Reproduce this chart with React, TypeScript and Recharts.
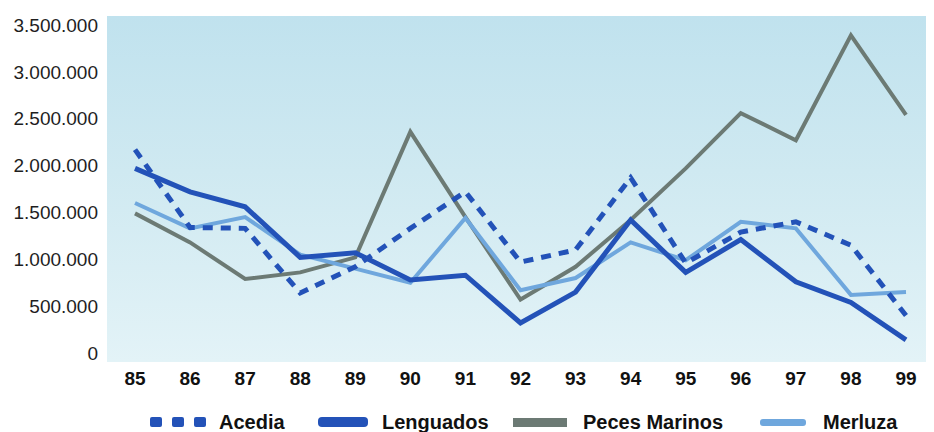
import React from 'react';
import { LineChart, Line, XAxis, YAxis, Legend } from 'recharts';

const years = ['85', '86', '87', '88', '89', '90', '91', '92', '93', '94', '95', '96', '97', '98', '99'];
const acedia = [2170000, 1340000, 1330000, 640000, 920000, 1330000, 1720000, 970000, 1100000, 1870000, 960000, 1290000, 1400000, 1150000, 400000];
const lenguados = [1970000, 1720000, 1560000, 1020000, 1070000, 780000, 830000, 320000, 650000, 1420000, 860000, 1210000, 760000, 540000, 140000];
const pecesMarinos = [1490000, 1180000, 790000, 860000, 1020000, 2360000, 1450000, 570000, 920000, 1420000, 1970000, 2560000, 2270000, 3390000, 2540000];
const merluza = [1600000, 1330000, 1450000, 1050000, 900000, 750000, 1440000, 670000, 800000, 1180000, 990000, 1400000, 1330000, 620000, 650000];
const yTicks = [0, 500000, 1000000, 1500000, 2000000, 2500000, 3000000, 3500000];

const chartData = years.map((year, i) => ({
  year,
  acedia: acedia[i],
  lenguados: lenguados[i],
  peces: pecesMarinos[i],
  merluza: merluza[i],
}));

const fmt = (v: number) => String(v).replace(/\B(?=(\d{3})+(?!\d))/g, '.');

const legendIcon = (key: string) => {
  if (key === 'acedia') {
    return (
      <svg width={56} height={12}>
        <rect x={0} y={1} width={12} height={10} rx={2} fill="#2352b8" />
        <rect x={22} y={1} width={12} height={10} rx={2} fill="#2352b8" />
        <rect x={44} y={1} width={12} height={10} rx={2} fill="#2352b8" />
      </svg>
    );
  }
  if (key === 'lenguados') {
    return (
      <svg width={50} height={12}>
        <rect x={0} y={1} width={50} height={10} rx={4} fill="#2352b8" />
      </svg>
    );
  }
  if (key === 'peces') {
    return (
      <svg width={54} height={12}>
        <rect x={0} y={2} width={54} height={9} fill="#6c7a74" />
      </svg>
    );
  }
  return (
    <svg width={46} height={12}>
      <rect x={0} y={3} width={46} height={7} rx={3} fill="#6fa7dd" />
    </svg>
  );
};

const legendLayout: Record<string, number> = { acedia: 142, lenguados: 310, peces: 505, merluza: 752 };
const legendGap: Record<string, number> = { acedia: 13, lenguados: 14, peces: 16, merluza: 17 };

const renderLegend = (props: any) => {
  const { payload } = props;
  return (
    <div style={{ position: 'relative', height: 22, width: 926 }}>
      {payload.map((entry: any) => (
        <div
          key={entry.dataKey}
          style={{
            position: 'absolute',
            left: legendLayout[entry.dataKey],
            top: 1,
            height: 22,
            display: 'flex',
            alignItems: 'center',
            gap: legendGap[entry.dataKey],
          }}
        >
          {legendIcon(entry.dataKey)}
          <span style={{ fontWeight: 'bold', fontSize: 20, color: '#111', lineHeight: '22px' }}>{entry.value}</span>
        </div>
      ))}
    </div>
  );
};

export default function App() {
  return (
    <div style={{ position: 'relative', width: 926, height: 424, fontFamily: '"Liberation Sans", Arial, sans-serif' }}>
      <div
        style={{
          position: 'absolute',
          left: 99,
          top: 8,
          width: 827,
          height: 346,
          background: 'linear-gradient(to bottom, #c0e2ee 0%, #cfe9f1 45%, #e3f3f7 100%)',
        }}
      />
      <div style={{ position: 'absolute', left: 0, top: 0 }}>
        <LineChart width={926} height={424} data={chartData} margin={{ top: 17, right: 0, bottom: 0, left: 0 }}>
          <XAxis
            dataKey="year"
            axisLine={false}
            tickLine={false}
            tickSize={0}
            tickMargin={19}
            height={57}
            padding={{ left: 28, right: 28 }}
            tick={{ fill: '#111', fontSize: 19, fontWeight: 'bold' }}
          />
          <YAxis
            domain={[0, 3500000]}
            ticks={yTicks}
            tickFormatter={fmt}
            axisLine={false}
            tickLine={false}
            tickSize={0}
            tickMargin={9}
            width={99}
            tick={{ fill: '#1e1e1e', fontSize: 19 }}
          />
          <Legend verticalAlign="bottom" content={renderLegend} />
          <Line type="linear" dataKey="peces" name="Peces Marinos" stroke="#6c7a74" strokeWidth={4} dot={false} isAnimationActive={false} />
          <Line type="linear" dataKey="merluza" name="Merluza" stroke="#6fa7dd" strokeWidth={4} dot={false} isAnimationActive={false} />
          <Line type="linear" dataKey="lenguados" name="Lenguados" stroke="#2352b8" strokeWidth={5} dot={false} isAnimationActive={false} />
          <Line type="linear" dataKey="acedia" name="Acedia" stroke="#2352b8" strokeWidth={5} strokeDasharray="10 8" dot={false} isAnimationActive={false} />
        </LineChart>
      </div>
    </div>
  );
}
